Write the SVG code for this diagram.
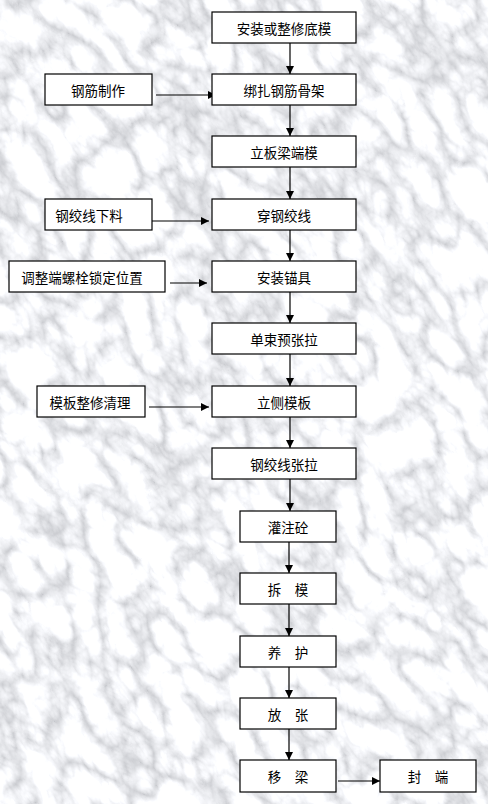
<svg xmlns="http://www.w3.org/2000/svg" width="488" height="804" viewBox="0 0 488 804">
<style>
.box{fill:#fff;stroke:#000;stroke-width:1.2}
.t{font-family:"Noto Sans CJK SC","Noto Sans CJK JP",sans-serif;font-size:13.5px;fill:#000;text-anchor:middle;dominant-baseline:central}
.c{stroke:#000;stroke-width:1.2;fill:none;marker-end:url(#ah)}
</style>
<defs>
<marker id="ah" viewBox="0 0 8 8" refX="8" refY="4" markerWidth="8" markerHeight="8" markerUnits="userSpaceOnUse" orient="auto">
<path d="M0,0 L8,4 L0,8 Z" fill="#000"/>
</marker>
<filter id="marble" x="0" y="0" width="100%" height="100%">
<feTurbulence type="turbulence" baseFrequency="0.032 0.018" numOctaves="5" seed="11" result="n"/>
<feColorMatrix in="n" type="matrix" values="1.1 0 0 0 0.56  1.1 0 0 0 0.57  1.1 0 0 0 0.6  0 0 0 0 1"/>
</filter>
</defs>
<rect x="0" y="0" width="488" height="804" fill="#d8dade"/>
<g transform="rotate(-35 244 402)">
<rect x="-400" y="-300" width="1300" height="1400" filter="url(#marble)"/>
</g>
<g id="connectors">
<line class="c" x1="290" y1="43" x2="290" y2="74"/>
<line class="c" x1="290" y1="105" x2="290" y2="136"/>
<line class="c" x1="290" y1="167" x2="290" y2="199"/>
<line class="c" x1="290" y1="230" x2="290" y2="261"/>
<line class="c" x1="290" y1="292" x2="290" y2="323"/>
<line class="c" x1="290" y1="354" x2="290" y2="386"/>
<line class="c" x1="290" y1="417" x2="290" y2="448"/>
<line class="c" x1="290" y1="479" x2="290" y2="511"/>
<line class="c" x1="289" y1="542" x2="289" y2="573"/>
<line class="c" x1="289" y1="604" x2="289" y2="636"/>
<line class="c" x1="289" y1="667" x2="289" y2="698"/>
<line class="c" x1="289" y1="729" x2="289" y2="760"/>
<line class="c" x1="338" y1="781" x2="380" y2="781"/>
<line class="c" x1="156" y1="95" x2="216" y2="95"/>
<line class="c" x1="149" y1="221" x2="209" y2="221"/>
<line class="c" x1="170" y1="283" x2="207" y2="283"/>
<line class="c" x1="149" y1="407" x2="209" y2="407"/>
</g>
<g id="n1"><rect class="box" x="212" y="12" width="144" height="31"/><text class="t" x="284" y="28">安装或整修底模</text></g>
<g id="n2"><rect class="box" x="212" y="74" width="144" height="31"/><text class="t" x="284" y="90">绑扎钢筋骨架</text></g>
<g id="n3"><rect class="box" x="212" y="136" width="144" height="31"/><text class="t" x="284" y="152">立板梁端模</text></g>
<g id="n4"><rect class="box" x="212" y="199" width="144" height="31"/><text class="t" x="284" y="215">穿钢绞线</text></g>
<g id="n5"><rect class="box" x="212" y="261" width="144" height="31"/><text class="t" x="284" y="277">安装锚具</text></g>
<g id="n6"><rect class="box" x="212" y="323" width="144" height="31"/><text class="t" x="284" y="339">单束预张拉</text></g>
<g id="n7"><rect class="box" x="212" y="386" width="144" height="31"/><text class="t" x="284" y="402">立侧模板</text></g>
<g id="n8"><rect class="box" x="212" y="448" width="144" height="31"/><text class="t" x="284" y="464">钢绞线张拉</text></g>
<g id="n9"><rect class="box" x="240" y="511" width="96" height="31"/><text class="t" x="288" y="527">灌注砼</text></g>
<g id="n10"><rect class="box" x="240" y="573" width="96" height="31"/><text class="t" x="288" y="589">拆　模</text></g>
<g id="n11"><rect class="box" x="240" y="636" width="96" height="31"/><text class="t" x="288" y="652">养　护</text></g>
<g id="n12"><rect class="box" x="240" y="698" width="96" height="31"/><text class="t" x="288" y="714">放　张</text></g>
<g id="n13"><rect class="box" x="240" y="760" width="96" height="32"/><text class="t" x="288" y="776">移　梁</text></g>
<g id="n14"><rect class="box" x="380" y="760" width="96" height="32"/><text class="t" x="428" y="776">封　端</text></g>
<g id="s1"><rect class="box" x="45" y="74" width="107" height="31"/><text class="t" x="98" y="90">钢筋制作</text></g>
<g id="s2"><rect class="box" x="45" y="199" width="107" height="31"/><text class="t" x="89" y="215">钢绞线下料</text></g>
<g id="s3"><rect class="box" x="9" y="261" width="156" height="31"/><text class="t" x="82" y="277">调整端螺栓锁定位置</text></g>
<g id="s4"><rect class="box" x="37" y="386" width="108" height="31"/><text class="t" x="90" y="402">模板整修清理</text></g>
</svg>
